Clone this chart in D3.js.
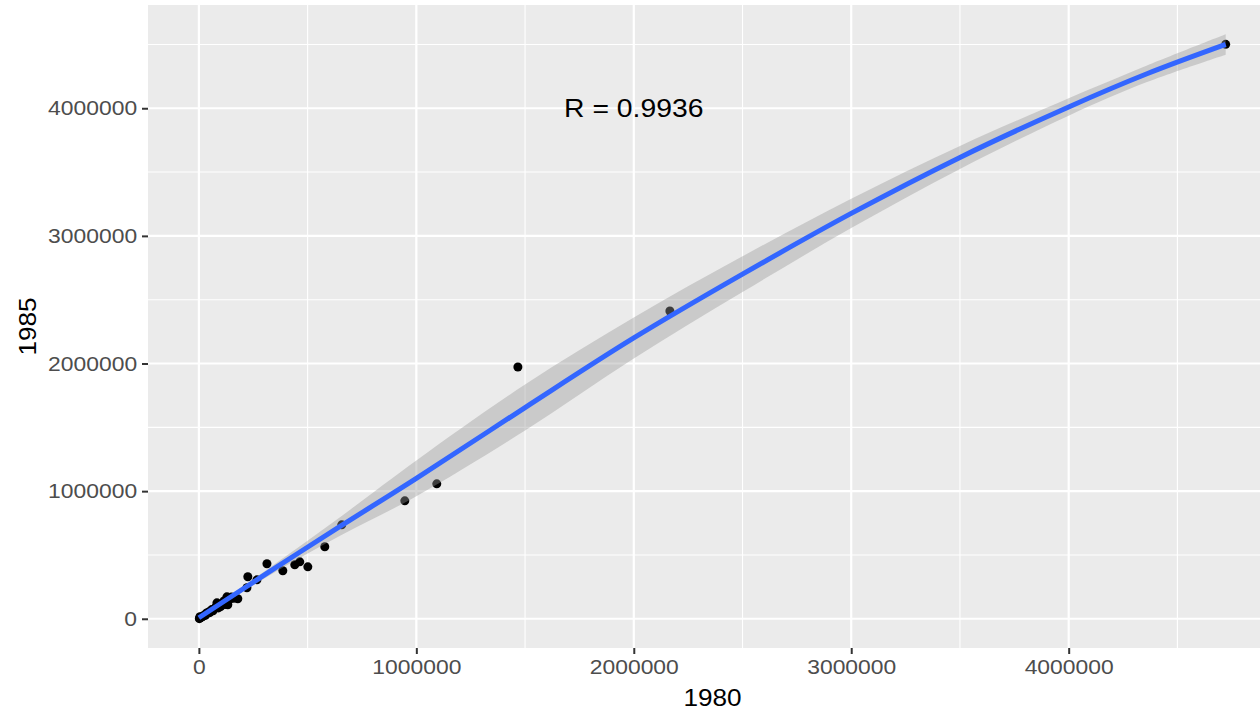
<!DOCTYPE html>
<html>
<head>
<meta charset="utf-8">
<script src="https://cdn.jsdelivr.net/npm/d3@7"></script>
<style>
  body { margin: 0; background: #fff; }
  text { font-family: "Liberation Sans", Arial, sans-serif; }
</style>
</head>
<body>
<svg id="chart" width="1260" height="713"></svg>
<script>

// scatter values
var pop1980 = [4722000, 2166000, 1467000, 1094000, 947000, 657000, 579000, 501000, 464000, 441000,
  386000, 313000, 267000, 225000, 221000, 179000, 133000, 129000, 83000, 5000,
  2000, 8000, 14000, 20000, 26000, 33000, 40000, 47000, 55000, 62000,
  70000, 78000, 95000, 105000, 115000, 140000, 150000, 160000, 30000, 50000,
  65000, 90000, 12000, 4000, 36000, 58000, 100000, 120000];
var pop1985 = [4501000, 2411000, 1973000, 1057000, 924000, 736000, 564000, 407000, 446000, 423000,
  376000, 431000, 305000, 329000, 243000, 157000, 110000, 172000, 125000, 16000,
  1000, 10000, 16000, 22000, 30000, 38000, 44000, 55000, 60000, 72000,
  78000, 92000, 104000, 118000, 140000, 150000, 170000, 160000, 28000, 48000,
  62000, 85000, 14000, 6000, 46000, 70000, 96000, 112000];

// smooth fit and its band
var fitX  = [0, 330000, 660000, 1000000, 1500000, 2000000, 2500000, 3000000, 3500000, 4000000, 4360000, 4722000];
var fitY  = [8000, 375000, 735000, 1100000, 1655000, 2200000, 2700000, 3176000, 3615000, 4010000, 4270000, 4500000];
var fitSe = [8000, 30000, 75000, 140000, 180000, 160000, 140000, 115000, 90000, 68000, 65000, 80000];

var xBreaks = [0, 1000000, 2000000, 3000000, 4000000];
var yBreaks = [0, 1000000, 2000000, 3000000, 4000000];
var xMinor = [500000, 1500000, 2500000, 3500000, 4500000];
var yMinor = [500000, 1500000, 2500000, 3500000, 4500000];

var annotation = "R = 0.9936";
var labelAt = [2000000, 4000000];
var xTitle = "1980";
var yTitle = "1985";

var svg = d3.select("#chart");
var panel = {left: 148, right: 1277, top: 5, bottom: 648};
var stretch = 1.09;

function expand(lo, hi) {
  var d = (hi - lo) * 0.05;
  return [lo - d, hi + d];
}

var xs = d3.scaleLinear()
  .domain(expand(d3.min(pop1980), d3.max(pop1980)))
  .range([panel.left, panel.right]);

var yLo = fitY.map(function(v, i) { return v - fitSe[i]; });
var yHi = fitY.map(function(v, i) { return v + fitSe[i]; });
var ys = d3.scaleLinear()
  .domain(expand(Math.min(d3.min(pop1985), d3.min(yLo)), Math.max(d3.max(pop1985), d3.max(yHi))))
  .range([panel.bottom, panel.top]);

svg.append("clipPath").attr("id", "clip")
  .append("rect")
  .attr("x", panel.left).attr("y", panel.top)
  .attr("width", panel.right - panel.left).attr("height", panel.bottom - panel.top);

svg.append("rect")
  .attr("x", panel.left).attr("y", panel.top)
  .attr("width", panel.right - panel.left).attr("height", panel.bottom - panel.top)
  .attr("fill", "#EBEBEB");

var grid = svg.append("g").attr("clip-path", "url(#clip)");

// minor grid
grid.selectAll(".vminor").data(xMinor).enter().append("line")
  .attr("x1", function(d) { return xs(d); }).attr("x2", function(d) { return xs(d); })
  .attr("y1", panel.top).attr("y2", panel.bottom)
  .attr("stroke", "#fff").attr("stroke-width", 1.1);
grid.selectAll(".hminor").data(yMinor).enter().append("line")
  .attr("y1", function(d) { return ys(d); }).attr("y2", function(d) { return ys(d); })
  .attr("x1", panel.left).attr("x2", panel.right)
  .attr("stroke", "#fff").attr("stroke-width", 1.1);

// major grid
grid.selectAll(".vmajor").data(xBreaks).enter().append("line")
  .attr("x1", function(d) { return xs(d); }).attr("x2", function(d) { return xs(d); })
  .attr("y1", panel.top).attr("y2", panel.bottom)
  .attr("stroke", "#fff").attr("stroke-width", 2.2);
grid.selectAll(".hmajor").data(yBreaks).enter().append("line")
  .attr("y1", function(d) { return ys(d); }).attr("y2", function(d) { return ys(d); })
  .attr("x1", panel.left).attr("x2", panel.right)
  .attr("stroke", "#fff").attr("stroke-width", 2.2);

var marks = svg.append("g").attr("clip-path", "url(#clip)");

// points first, smooth drawn over them
marks.selectAll("circle").data(pop1980).enter().append("circle")
  .attr("cx", function(d) { return xs(d); })
  .attr("cy", function(d, i) { return ys(pop1985[i]); })
  .attr("r", 4.5)
  .attr("fill", "#000");

var band = d3.area()
  .x(function(d) { return xs(d); })
  .y0(function(d, i) { return ys(yLo[i]); })
  .y1(function(d, i) { return ys(yHi[i]); })
  .curve(d3.curveCatmullRom.alpha(0.5));
marks.append("path")
  .attr("d", band(fitX))
  .attr("fill", "#999999")
  .attr("fill-opacity", 0.4);

var fitLine = d3.line()
  .x(function(d) { return xs(d); })
  .y(function(d, i) { return ys(fitY[i]); })
  .curve(d3.curveCatmullRom.alpha(0.5));
marks.append("path")
  .attr("d", fitLine(fitX))
  .attr("fill", "none")
  .attr("stroke", "#3366FF")
  .attr("stroke-width", 5);

// axes
var fmt = d3.format("d");
var xAxis = svg.append("g")
  .attr("transform", "translate(0," + panel.bottom + ")")
  .call(d3.axisBottom(xs).tickValues(xBreaks).tickFormat(fmt).tickSize(6).tickPadding(4));
var yAxis = svg.append("g")
  .attr("transform", "translate(" + panel.left + ",0)")
  .call(d3.axisLeft(ys).tickValues(yBreaks).tickFormat(fmt).tickSize(6).tickPadding(4));

[xAxis, yAxis].forEach(function(ax) {
  ax.select(".domain").remove();
  ax.selectAll(".tick line").attr("stroke", "#333").attr("stroke-width", 2);
  ax.selectAll(".tick text")
    .attr("fill", "#4D4D4D")
    .style("font-size", "21px")
    .style("font-family", "'Liberation Sans', Arial, sans-serif");
});
xAxis.selectAll(".tick text").attr("dy", "0.78em").attr("transform", "scale(" + stretch + ",1)");
yAxis.selectAll(".tick text").attr("transform", "scale(" + stretch + ",1)");

// titles
svg.append("text")
  .attr("transform", "translate(" + ((panel.left + panel.right) / 2) + ",706) scale(" + stretch + ",1)")
  .attr("text-anchor", "middle")
  .style("font-size", "24px")
  .attr("fill", "#000")
  .text(xTitle);

svg.append("text")
  .attr("transform", "translate(36," + ((panel.top + panel.bottom) / 2) + ") rotate(-90) scale(" + stretch + ",1)")
  .attr("text-anchor", "middle")
  .style("font-size", "24px")
  .attr("fill", "#000")
  .text(yTitle);

// correlation label
svg.append("text")
  .attr("transform", "translate(" + xs(labelAt[0]) + "," + (ys(labelAt[1]) + 9) + ") scale(" + stretch + ",1)")
  .attr("text-anchor", "middle")
  .style("font-size", "26px")
  .attr("fill", "#000")
  .text(annotation);
</script>
</body>
</html>
